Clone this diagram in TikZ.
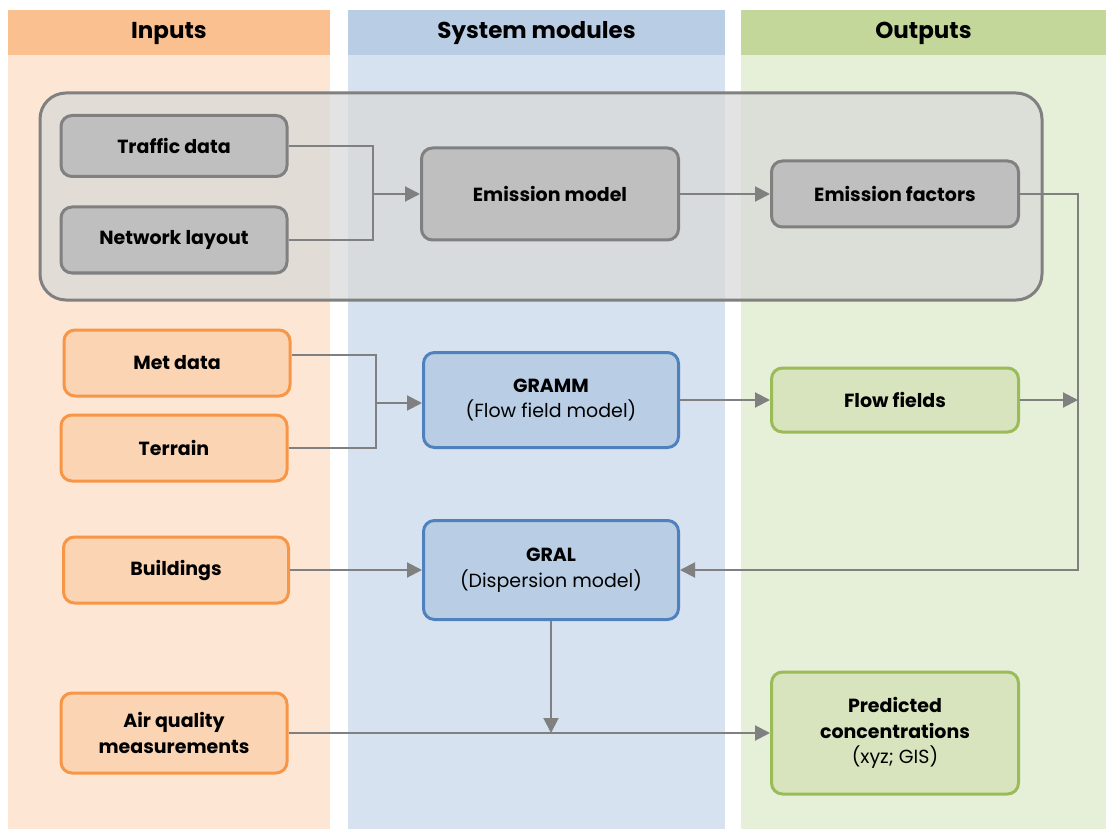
\documentclass[tikz,border=0pt]{standalone}
\usepackage{fontspec}
\setmainfont{Poppins}
\usepackage{xcolor}
\usetikzlibrary{arrows.meta}

\definecolor{inhead}{HTML}{FAC090}
\definecolor{inbody}{HTML}{FDE6D4}
\definecolor{modhead}{HTML}{B9CDE5}
\definecolor{modbody}{HTML}{D6E2F0}
\definecolor{outhead}{HTML}{C4D79B}
\definecolor{outbody}{HTML}{E6EFD8}
\definecolor{grayline}{HTML}{808080}
\definecolor{grayfill}{HTML}{BFBFBF}
\definecolor{orangeline}{HTML}{F79646}
\definecolor{orangefill}{HTML}{FBD4B4}
\definecolor{blueline}{HTML}{4F81BD}
\definecolor{bluefill}{HTML}{B9CDE5}
\definecolor{greenline}{HTML}{9BBB59}
\definecolor{greenfill}{HTML}{D7E4BD}

\begin{document}
\begin{tikzpicture}[x=1pt, y=-1pt,
    box/.style={rounded corners=11pt, line width=3pt, align=center,
      font=\fontsize{19}{25.5}\selectfont\bfseries, text=black},
    graybox/.style={box, draw=grayline, fill=grayfill},
    orangebox/.style={box, draw=orangeline, fill=orangefill},
    bluebox/.style={box, draw=blueline, fill=bluefill},
    greenbox/.style={box, draw=greenline, fill=greenfill},
    link/.style={draw=grayline, line width=2pt},
    arrow/.style={link, -{Triangle[length=15pt,width=15pt]}}]
  \useasboundingbox (0,0) rectangle (1106,829);
  % columns
  \foreach \l/\r/\h/\b/\t in {8/330/inhead/inbody/Inputs,
                              348/725/modhead/modbody/System modules,
                              741/1106/outhead/outbody/Outputs}{
    \fill[\b] (\l,55) rectangle (\r,829);
    \fill[\h] (\l,10) rectangle (\r,55);
    \node[font=\fontsize{23}{27}\selectfont\bfseries] at ({(\l+\r)/2},33) {\t};}
  % traffic group
  \draw[draw=grayline, line width=3pt, fill=black!15, fill opacity=0.75,
        rounded corners=26pt] (40,93) rectangle (1042,300);
  \node[graybox, minimum width=226, minimum height=61] (traffic) at (174,146) {Traffic data};
  \node[graybox, minimum width=226, minimum height=66] (network) at (174,240) {Network layout};
  \node[graybox, minimum width=257, minimum height=92] (emission) at (550,194) {Emission model};
  \node[graybox, minimum width=247, minimum height=66] (factors) at (895,194) {Emission factors};
  % inputs
  \node[orangebox, minimum width=226, minimum height=66] (met) at (177,363) {Met data};
  \node[orangebox, minimum width=226, minimum height=66] (terrain) at (174,448) {Terrain};
  \node[orangebox, minimum width=225, minimum height=66] (buildings) at (176,570) {Buildings};
  \node[orangebox, minimum width=226, minimum height=80] (air) at (174,733)
    {Air quality\\measurements};
  % modules
  \node[bluebox, minimum width=255, minimum height=95] (gramm) at (551,400)
    {GRAMM\\\mdseries(Flow field model)};
  \node[bluebox, minimum width=255, minimum height=99] (gral) at (551,570)
    {GRAL\\\mdseries(Dispersion model)};
  % outputs
  \node[greenbox, minimum width=247, minimum height=64] (flow) at (895,400) {Flow fields};
  \node[greenbox, minimum width=247, minimum height=122] (predicted) at (895,733)
    {Predicted\\concentrations\\\mdseries(xyz; GIS)};
  % connectors
  \coordinate (emjoin) at (373,194);
  \coordinate (metjoin) at (376,403);
  \coordinate (fuse) at (1078,400);
  \coordinate (drop) at (gral.south |- predicted.west);
  \draw[link] (traffic.east) -| (emjoin);
  \draw[link] (network.east) -| (emjoin);
  \draw[arrow] (emjoin) -- (emission.west);
  \draw[arrow] (emission.east) -- (factors.west);
  \draw[link] (met.east |- 0,355) -| (metjoin);
  \draw[link] (terrain.east) -| (metjoin);
  \draw[arrow] (metjoin) -- (gramm.west |- metjoin);
  \draw[arrow] (gramm.east) -- (flow.west);
  \draw[arrow] (factors.east) -| (fuse) |- (gral.east);
  \draw[arrow] (flow.east) -- (fuse);
  \draw[arrow] (buildings.east) -- (gral.west);
  \draw[arrow] (gral.south) -- (drop);
  \draw[arrow] (air.east) -- (predicted.west);
\end{tikzpicture}
\end{document}
